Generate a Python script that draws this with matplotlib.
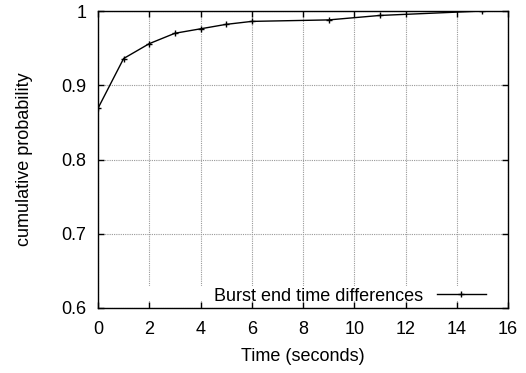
import matplotlib
matplotlib.use("Agg")
import matplotlib.pyplot as plt
from matplotlib.patches import Rectangle

# CDF of burst end time differences
time_s = [0, 1, 2, 3, 4, 5, 6, 9, 11, 15]
cum_prob = [0.869, 0.936, 0.956, 0.970, 0.976, 0.982, 0.986, 0.988, 0.994, 1.0]

x_ticks = [0, 2, 4, 6, 8, 10, 12, 14, 16]
y_ticks = [0.6, 0.7, 0.8, 0.9, 1.0]
y_tick_labels = ["0.6", "0.7", "0.8", "0.9", "1"]

plt.rcParams["font.family"] = ["Liberation Sans", "DejaVu Sans"]

fig = plt.figure(figsize=(5.26, 3.73), dpi=100)
ax = fig.add_axes([98 / 526, 65 / 373, 410 / 526, 297 / 373])

ax.plot(time_s, cum_prob, color="black", linewidth=1.0, marker="+",
        markersize=4.5, markeredgewidth=1.0, label="Burst end time differences",
        zorder=3)

ax.set_xlim(0, 16)
ax.set_ylim(0.6, 1.0)
ax.set_xticks(x_ticks)
ax.set_yticks(y_ticks)
ax.set_yticklabels(y_tick_labels)

ax.tick_params(direction="in", length=4.3, width=1.0, top=True, right=True,
               labelsize=13, colors="black")
ax.tick_params(axis="y", pad=8.5)
ax.tick_params(axis="x", pad=9)
for s in ax.spines.values():
    s.set_linewidth(1.0)
    s.set_color("black")

ax.set_axisbelow(True)
ax.grid(True, color="#999999", linestyle=(0, (1, 1)), linewidth=0.8)

# gnuplot-style blanking strip behind the key
ax.add_patch(Rectangle((0.004, 0.024), 0.992, 0.05, transform=ax.transAxes,
                       facecolor="white", edgecolor="none", zorder=1))

ax.set_xlabel("Time (seconds)", fontsize=13)
ax.set_ylabel("cumulative probability", fontsize=13)
ax.xaxis.set_label_coords(0.5, -0.162)
ax.xaxis.label.set_va("center")
ax.yaxis.set_label_coords(-0.18, 0.5)
ax.yaxis.label.set_va("center")

ax.legend(loc="center right", bbox_to_anchor=(0.946, 0.040), frameon=False,
          fontsize=13, markerfirst=False, handlelength=2.7,
          handletextpad=0.8, borderpad=0, borderaxespad=0)

fig.savefig("out.png", dpi=100)
